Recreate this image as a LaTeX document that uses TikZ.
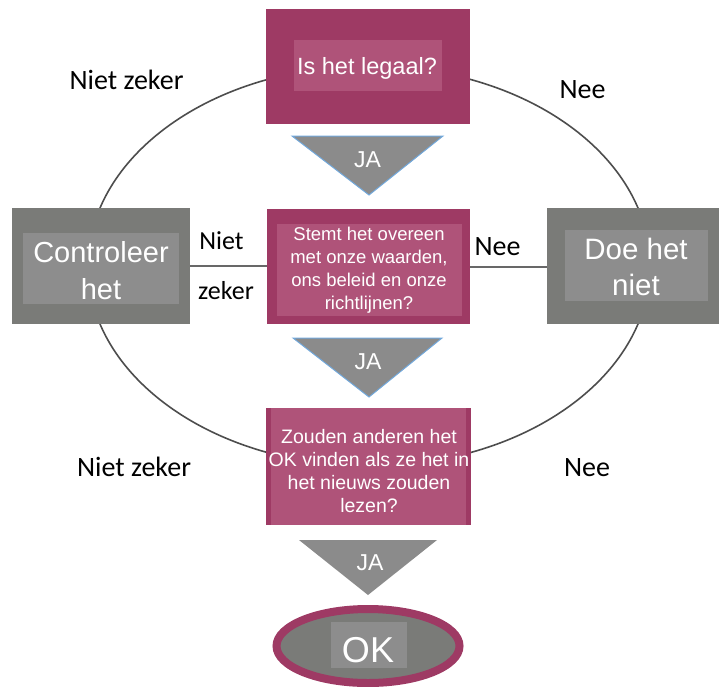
\documentclass[tikz,border=0pt]{standalone}
\usepackage{fontspec}
\setmainfont{Liberation Sans}
\newfontfamily\labfont{Carlito}
\usetikzlibrary{shapes.geometric}
\definecolor{pinkdark}{HTML}{9E3A64}
\definecolor{pinkmid}{HTML}{AF5379}
\definecolor{graydark}{HTML}{7A7B78}
\definecolor{graylight}{HTML}{8D8D8D}
\definecolor{trigray}{HTML}{8B8B8B}
\definecolor{triedge}{HTML}{72A8DB}
\definecolor{ringcol}{HTML}{4D4D4D}
\begin{document}
\begin{tikzpicture}[x=1pt,y=-1pt,
  ring/.style={draw=ringcol,line width=1.6pt},
  link/.style={draw=ringcol!85,line width=2pt},
  pinkbox/.style={rectangle,fill=pinkdark,inner sep=0pt,outer sep=0pt},
  pinkinner/.style={rectangle,fill=pinkmid,inner sep=0pt,outer sep=0pt},
  graybox/.style={rectangle,fill=graydark,inner sep=0pt,outer sep=0pt},
  grayinner/.style={rectangle,fill=graylight,inner sep=0pt,outer sep=0pt},
  boxtext/.style={text=white,inner sep=0pt,align=center},
  lab/.style={inner sep=0pt,anchor=base,font=\labfont\fontsize{28}{32}\selectfont},
  tri/.style={fill=trigray},
  trib/.style={fill=trigray,draw=triedge,line width=1pt},
  jatext/.style={text=white,inner sep=0pt,anchor=base,font=\fontsize{23}{27}\selectfont}
]
\useasboundingbox (0,0) rectangle (719,686);
\clip (0,0) rectangle (719,686);
% ring connecting the outcomes
\draw[ring] (369,266) ellipse [x radius=281pt, y radius=200pt];

% question 1
\node[pinkbox, minimum width=204pt, minimum height=115pt] (q1) at (368,66.5) {};
\node[pinkinner, minimum width=148pt, minimum height=51pt] (q1i) at (368,65.5) {};
\node[boxtext, anchor=base, font=\fontsize{23.5}{27}\selectfont] (q1t) at (367,74) {Is het legaal?};

% question 2
\node[pinkbox, minimum width=203pt, minimum height=115pt] (q2) at (368.5,266.5) {};
\node[pinkinner, minimum width=185pt, minimum height=92pt] (q2i) at (369.5,270) {};
\node[boxtext, font=\fontsize{18.5}{23}\selectfont] (q2t) at (369,270.5) {Stemt het overeen\\met onze waarden,\\ons beleid en onze\\richtlijnen?};

% question 3
\node[pinkbox, minimum width=205pt, minimum height=117pt] (q3) at (368.5,466) {};
\node[pinkinner, minimum width=195pt, minimum height=117pt] (q3i) at (368.5,466) {};
\node[boxtext, font=\fontsize{19.5}{23.3}\selectfont] (q3t) at (369,471) {Zouden anderen het\\OK vinden als ze het in\\het nieuws zouden\\lezen?};

% side outcomes
\node[graybox, minimum width=178pt, minimum height=116pt] (ctrl) at (101,266) {};
\node[grayinner, minimum width=156pt, minimum height=71pt] (ctrli) at (101,268.5) {};
\node[boxtext, font=\fontsize{29}{37}\selectfont] (ctrlt) at (101,271) {Controleer\\het};

\node[graybox, minimum width=180pt, minimum height=116pt] (doe) at (637,266) {};
\node[grayinner, minimum width=143pt, minimum height=71pt] (doei) at (636.5,265.5) {};
\node[boxtext, font=\fontsize{29.5}{36}\selectfont] (doet) at (636,266.5) {Doe het\\niet};

% connectors
\draw[link] (ctrl.east) -- (ctrl.east -| q2.west);
\draw[link] (q2.east) -- (q2.east -| doe.west);

% JA arrows
\fill[trib] (292,136) -- (443,136) -- (369,195) -- cycle;
\node[jatext] (ja1) at (367.5,167) {JA};
\fill[trib] (293,338) -- (442,338) -- (369,397) -- cycle;
\node[jatext] (ja2) at (368,369) {JA};
\fill[tri] (299,540) -- (437,540) -- (368,595) -- cycle;
\node[jatext] (ja3) at (370,570) {JA};

% OK
\node[ellipse, draw=pinkdark, fill=graydark, line width=8pt, minimum width=183pt, minimum height=74pt, inner sep=0pt] (ok) at (368,646) {};
\node[grayinner, minimum width=76pt, minimum height=46pt] (oki) at (369,645) {};
\node[boxtext, anchor=base, font=\fontsize{36}{40}\selectfont] (okt) at (368,662) {OK};

% labels
\node[lab] (l1) at (126.5,89) {Niet zeker};
\node[lab] (l2) at (582.5,98) {Nee};
\node[lab, font=\labfont\fontsize{26}{30}\selectfont] (l3) at (221.5,249) {Niet};
\node[lab, font=\labfont\fontsize{26}{30}\selectfont] (l4) at (226,299) {zeker};
\node[lab] (l5) at (497.5,255) {Nee};
\node[lab] (l6) at (134,476) {Niet zeker};
\node[lab] (l7) at (587,476) {Nee};
\end{tikzpicture}
\end{document}
